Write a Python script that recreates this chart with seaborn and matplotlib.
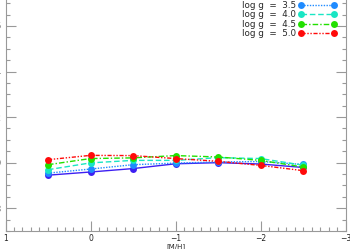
import pandas as pd
import seaborn as sns
import matplotlib.pyplot as plt
from matplotlib.ticker import MultipleLocator

metallicity = [0.5, 0.0, -0.5, -1.0, -1.5, -2.0, -2.5]
logg_30 = [0.945, 0.959, 0.974, 0.995, 1.000, 0.994, 0.979]
logg_35 = [0.954, 0.972, 0.991, 0.998, 1.003, 1.005, 0.992]
logg_40 = [0.969, 0.999, 1.010, 1.010, 1.022, 1.018, 0.989]
logg_45 = [0.991, 1.018, 1.021, 1.031, 1.025, 1.010, 0.981]
logg_50 = [1.013, 1.032, 1.031, 1.018, 1.006, 0.988, 0.965]

series = [
    (None, logg_30, '#3d1ff2', '-'),
    ('log g  =  3.5', logg_35, '#1f8bff', (0, (1, 1))),
    ('log g  =  4.0', logg_40, '#19e6c4', (0, (4, 2))),
    ('log g  =  4.5', logg_45, '#22e000', (0, (4, 1.5, 1, 1.5))),
    ('log g  =  5.0', logg_50, '#ff0a0a', (0, (3, 1.2, 1, 1.2, 1, 1.2))),
]

sns.set_style("ticks")
plt.rcParams['font.family'] = ['DejaVu Sans']

fig = plt.figure(figsize=(3.5, 2.49), dpi=100)
ax = fig.add_axes([5.5 / 350, 18 / 249, 340 / 350, 231 / 249])

for label, vals, color, ls in series:
    df = pd.DataFrame({'mh': metallicity, 'val': vals})
    sns.lineplot(x='mh', y='val', data=df, ax=ax, color=color, linestyle=ls,
                 marker='o', markersize=5, markeredgewidth=0, linewidth=1,
                 label=label if label else '_nolegend_', sort=False)

ax.set_xlim(1, -3)
ax.set_ylim(0.70, 1.714)
ax.xaxis.set_major_locator(MultipleLocator(1))
ax.xaxis.set_minor_locator(MultipleLocator(0.1))
ax.yaxis.set_major_locator(MultipleLocator(0.2))
ax.yaxis.set_minor_locator(MultipleLocator(0.05))
ax.yaxis.set_major_formatter(plt.FuncFormatter(lambda v, p: '%.1f' % v))
ax.tick_params(which='both', direction='in', right=True, top=False,
               colors='#999999', labelcolor='#222222', labelsize=5.5, width=0.8)
ax.tick_params(which='major', length=7, pad=3)
ax.tick_params(axis='x', which='major', pad=2)
ax.tick_params(which='minor', length=3)
for s in ['left', 'right', 'bottom']:
    ax.spines[s].set_color('#999999')
    ax.spines[s].set_linewidth(0.8)
ax.spines['right'].set_visible(True)
ax.spines['top'].set_visible(False)

ax.set_xlabel('[M/H]', fontsize=5, labelpad=0)
ax.set_ylabel(None)

leg = ax.legend(loc='upper right', bbox_to_anchor=(0.985, 1.012), frameon=False,
                fontsize=6.3, markerfirst=False, numpoints=2, handlelength=4.4,
                handletextpad=0.3, labelspacing=0.05, borderaxespad=0)

fig.savefig('out.png', dpi=100)
